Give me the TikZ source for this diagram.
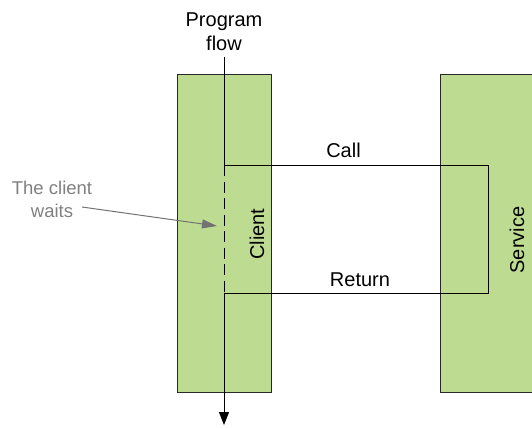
\documentclass[tikz,border=0pt]{standalone}
\usepackage{fontspec}
\setmainfont{Liberation Sans}
\usetikzlibrary{arrows.meta}
\definecolor{boxgreen}{RGB}{190,220,145}
\definecolor{boxline}{RGB}{40,40,40}
\definecolor{notegray}{RGB}{128,128,128}
\begin{document}
\begin{tikzpicture}[x=1pt,y=-1pt,
  lanebox/.style={draw=boxline, fill=boxgreen, line width=1pt, inner sep=0pt, anchor=north west},
  lbl/.style={font=\fontsize{20}{23}\selectfont, inner sep=0pt, text=black},
  notelbl/.style={font=\fontsize{18.5}{23}\selectfont, inner sep=0pt, text=notegray, align=center},
  flowline/.style={line width=1pt, draw=black},
  waitdash/.style={line width=1pt, dash pattern=on 11pt off 5.5pt},
  flowtip/.style={-{Triangle[length=13pt,width=10pt]}},
  notearrow/.style={draw=notegray!90!black, line width=1pt, -{Triangle[length=15pt,width=9pt]}}
]
\useasboundingbox (0,0) rectangle (532,428);
% lanes
\node[lanebox, minimum width=94pt, minimum height=318pt] (client) at (177,74) {};
\node[lanebox, minimum width=110pt, minimum height=318pt] (service) at (440,74) {};
% flow coordinates
\coordinate (flowtop) at (224,57);
\coordinate (callpt) at (224,165);
\coordinate (retpt) at (224,293);
\coordinate (flowend) at (224,425);
\coordinate (turnA) at (488,165);
\coordinate (turnB) at (488,293);
% call / return loop
\draw[flowline] (callpt) -- (turnA) -- (turnB) -- (retpt);
% program flow
\draw[flowline] (flowtop) -- (callpt);
\draw[flowline, waitdash] (callpt) -- (retpt);
\draw[flowline, flowtip] (retpt) -- (flowend);
% labels
\node[lbl, align=center, anchor=base] (flowlbl) at (224,50) {Program\\flow};
\node[lbl, anchor=base] (calllbl) at (343.5,157.5) {Call};
\node[lbl, anchor=base] (retlbl) at (360,286) {Return};
\node[lbl, rotate=90] (clientlbl) at (257,234) {Client};
\node[lbl, rotate=90] (servicelbl) at (517,240) {Service};
% note
\node[notelbl, anchor=base] (notelbl) at (52,217) {The client\\waits};
\coordinate (notestart) at (82,207);
\coordinate (noteend) at (217,226);
\draw[notearrow] (notestart) -- (noteend);
\end{tikzpicture}
\end{document}
